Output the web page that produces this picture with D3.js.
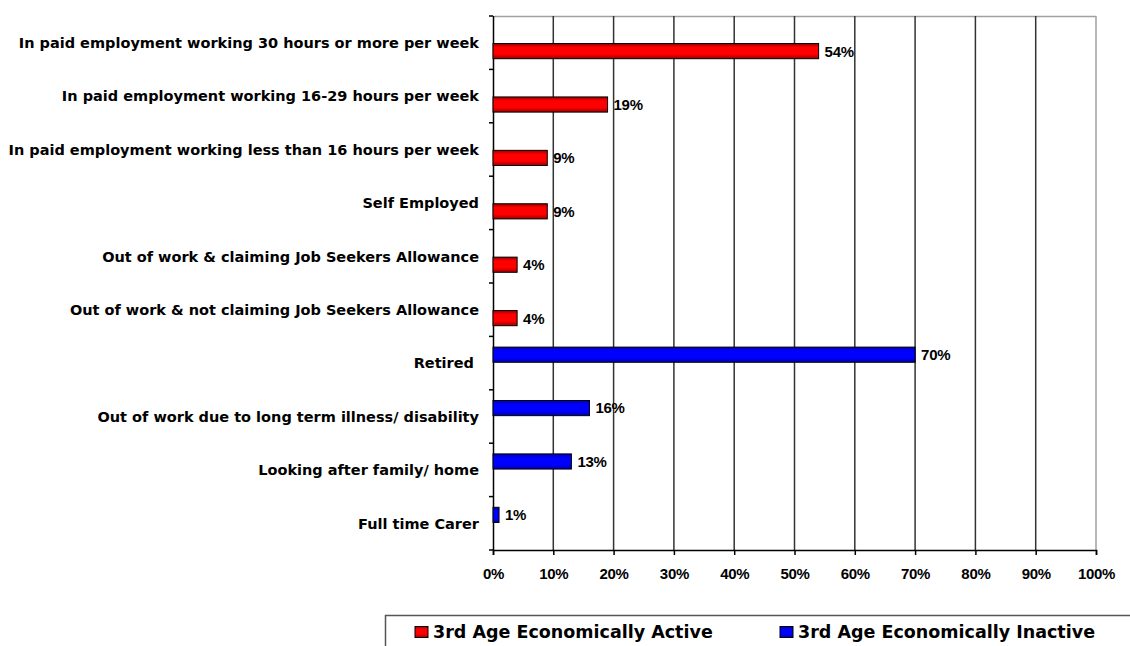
<!DOCTYPE html>
<html>
<head>
<meta charset="utf-8">
<script src="https://cdn.jsdelivr.net/npm/d3@7"></script>
<style>
  body { margin: 0; background: #fff; }
  svg { display: block; font-family: "Liberation Sans", Arial, sans-serif; }
</style>
</head>
<body>
<svg id="chart" width="1130" height="646"></svg>
<script>
// categories, top to bottom
var categories = [
  "In paid employment working 30 hours or more per week",
  "In paid employment working 16-29 hours per week",
  "In paid employment working less than 16 hours per week",
  "Self Employed",
  "Out of work & claiming Job Seekers Allowance",
  "Out of work & not claiming Job Seekers Allowance",
  "Retired ",
  "Out of work due to long term illness/ disability",
  "Looking after family/ home",
  "Full time Carer"
]
var seriesNames = ["3rd Age Economically Active", "3rd Age Economically Inactive"]
var activeValues = [54, 19, 9, 9, 4, 4, null, null, null, null]
var inactiveValues = [null, null, null, null, null, null, 70, 16, 13, 1]
var xTicks = [0, 10, 20, 30, 40, 50, 60, 70, 80, 90, 100]

var margin = {top: 16, right: 34, bottom: 96, left: 493}
  , width = 1130 - margin.left - margin.right
  , height = 646 - margin.top - margin.bottom

var svg = d3.select("#chart")

// bar gradients, darker at the edges
var defs = svg.append("defs")
function grad(id, mid, edge) {
  var lg = defs.append("linearGradient").attr("id", id)
    .attr("x1", 0).attr("y1", 0).attr("x2", 0).attr("y2", 1)
  lg.append("stop").attr("offset", "0%").attr("stop-color", edge)
  lg.append("stop").attr("offset", "25%").attr("stop-color", mid)
  lg.append("stop").attr("offset", "70%").attr("stop-color", mid)
  lg.append("stop").attr("offset", "100%").attr("stop-color", edge)
}
grad("gRed", "#ff0000", "#990000")
grad("gBlue", "#0000ff", "#0000aa")

var x = d3.scaleLinear().domain([0, 100]).range([0, width])
var y = d3.scaleBand().domain(categories).range([0, height])

// inner slots: in this chart the active series sits in the lower slot
var y1 = d3.scaleBand().domain([seriesNames[1], seriesNames[0]])
  .range([y.bandwidth() / 2 - 16, y.bandwidth() / 2 + 16])
  .paddingInner(0.1)

var g = svg.append("g").attr("transform", "translate(" + margin.left + "," + margin.top + ")")

// frame top/right
g.append("line").attr("x1", 0).attr("x2", width).attr("y1", 0.5).attr("y2", 0.5)
  .attr("stroke", "#a0a0a0").attr("stroke-width", 1.5)
g.append("line").attr("x1", width).attr("x2", width).attr("y1", 0).attr("y2", height)
  .attr("stroke", "#a0a0a0").attr("stroke-width", 1.5)

// vertical gridlines
g.selectAll(".grid")
  .data(xTicks.slice(1, -1))
  .enter().append("line")
  .attr("class", "grid")
  .attr("x1", function (d) { return x(d) }).attr("x2", function (d) { return x(d) })
  .attr("y1", 0).attr("y2", height)
  .attr("stroke", "#333").attr("stroke-width", 1.5)

// bottom axis
var xAxis = g.append("g")
  .attr("transform", "translate(0," + height + ")")
  .call(d3.axisBottom(x).tickValues(xTicks).tickSize(5).tickPadding(13)
    .tickFormat(function (d) { return d + "%" }))
xAxis.select(".domain").attr("stroke", "#000").attr("stroke-width", 1.5)
xAxis.selectAll(".tick line").attr("stroke", "#000").attr("stroke-width", 1.5)
xAxis.selectAll("text").attr("font-size", 15).attr("font-weight", "bold")
  .attr("fill", "#000").attr("letter-spacing", -0.3)

// left axis, ticks at category boundaries
var bounds = d3.range(categories.length + 1).map(function (i) { return i * y.step() })
g.append("line").attr("x1", 0.5).attr("x2", 0.5).attr("y1", 0).attr("y2", height)
  .attr("stroke", "#000").attr("stroke-width", 1.5)
g.selectAll(".ytick")
  .data(bounds)
  .enter().append("line")
  .attr("class", "ytick")
  .attr("x1", -4).attr("x2", 0)
  .attr("y1", function (d) { return d }).attr("y2", function (d) { return d })
  .attr("stroke", "#000").attr("stroke-width", 1.5)

g.selectAll(".cat")
  .data(categories)
  .enter().append("text")
  .attr("class", "cat")
  .attr("x", -14)
  .attr("y", function (d) { return y(d) + y.bandwidth() / 2 })
  .attr("dy", "0.36em")
  .attr("text-anchor", "end")
  .attr("font-family", "'DejaVu Sans', sans-serif")
  .attr("font-size", 14.5)
  .attr("font-weight", "bold")
  .style("white-space", "pre")
  .text(function (d) { return d })

// bars
var rows = []
categories.forEach(function (c, i) {
  if (activeValues[i] != null) rows.push({cat: c, s: seriesNames[0], v: activeValues[i], fill: "url(#gRed)"})
  if (inactiveValues[i] != null) rows.push({cat: c, s: seriesNames[1], v: inactiveValues[i], fill: "url(#gBlue)"})
})

g.selectAll(".bar")
  .data(rows)
  .enter().append("rect")
  .attr("class", "bar")
  .attr("x", x(0))
  .attr("y", function (d) { return y(d.cat) + y1(d.s) })
  .attr("width", function (d) { return x(d.v) - x(0) })
  .attr("height", y1.bandwidth())
  .attr("fill", function (d) { return d.fill })
  .attr("stroke", "#000").attr("stroke-width", 1)

g.selectAll(".val")
  .data(rows)
  .enter().append("text")
  .attr("class", "val")
  .attr("x", function (d) { return x(d.v) + 6 })
  .attr("y", function (d) { return y(d.cat) + y1(d.s) + y1.bandwidth() / 2 })
  .attr("dy", "0.36em")
  .attr("font-size", 15)
  .attr("font-weight", "bold")
  .attr("letter-spacing", -0.3)
  .text(function (d) { return d.v + "%" })

// legend
var lg = svg.append("g").attr("transform", "translate(385,615)")
lg.append("rect").attr("x", 0.5).attr("y", 0.5).attr("width", 800).attr("height", 60)
  .attr("fill", "#fff").attr("stroke", "#555").attr("stroke-width", 1.5)
var legendX = [30, 395]
var legendFill = ["url(#gRed)", "url(#gBlue)"]
seriesNames.forEach(function (s, i) {
  lg.append("rect").attr("x", legendX[i]).attr("y", 11.5).attr("width", 13).attr("height", 11)
    .attr("fill", legendFill[i]).attr("stroke", "#000")
  lg.append("text").attr("x", legendX[i] + 18).attr("y", 17).attr("dy", "0.36em")
    .attr("font-family", "'DejaVu Sans', sans-serif")
    .attr("font-size", 17.5).attr("font-weight", "bold")
    .text(s)
})
</script>
</body>
</html>
